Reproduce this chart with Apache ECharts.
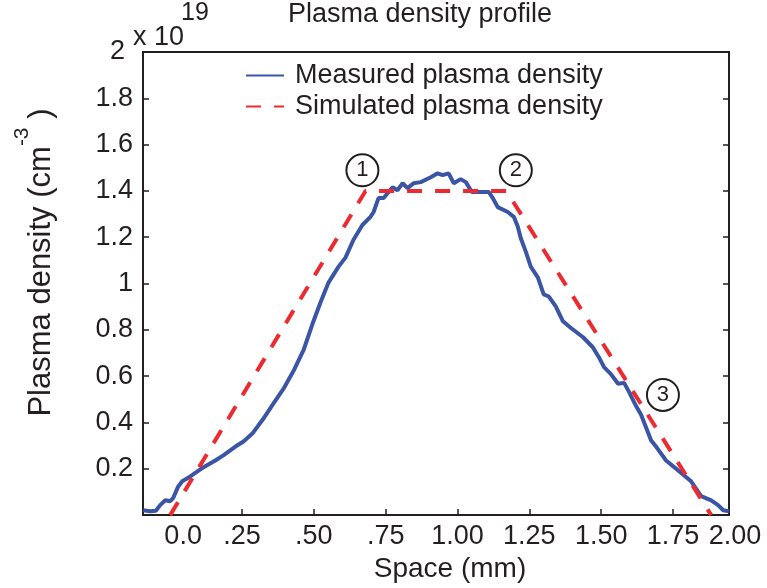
<!DOCTYPE html>
<html>
<head>
<meta charset="utf-8">
<script src="https://cdn.jsdelivr.net/npm/echarts@6/dist/echarts.min.js"></script>
<style>
  html, body { margin: 0; padding: 0; background: #fff; }
  #chart { width: 767px; height: 588px; }
</style>
</head>
<body>
<div id="chart"></div>
<script>
// measured profile (mm, 1e19 cm^-3)
const measuredX = [-0.094, -0.07, -0.05, -0.035, -0.017, 0.0, 0.01, 0.028, 0.042, 0.07, 0.11, 0.157, 0.185, 0.227, 0.255, 0.286, 0.324, 0.359, 0.394, 0.429, 0.464, 0.495, 0.523, 0.551, 0.586, 0.61, 0.638, 0.669, 0.697, 0.708, 0.725, 0.743, 0.76, 0.774, 0.791, 0.809, 0.826, 0.847, 0.872, 0.907, 0.931, 0.948, 0.969, 0.987, 1.011, 1.029, 1.05, 1.081, 1.109, 1.123, 1.14, 1.175, 1.196, 1.21, 1.22, 1.238, 1.255, 1.28, 1.30, 1.318, 1.342, 1.367, 1.395, 1.437, 1.471, 1.492, 1.51, 1.534, 1.559, 1.58, 1.597, 1.621, 1.639, 1.674, 1.691, 1.726, 1.768, 1.813, 1.848, 1.883, 1.907, 1.925, 1.945]
const measuredY = [0.021, 0.017, 0.019, 0.043, 0.064, 0.060, 0.073, 0.124, 0.146, 0.167, 0.202, 0.236, 0.258, 0.296, 0.318, 0.352, 0.416, 0.481, 0.545, 0.622, 0.712, 0.825, 0.918, 1.004, 1.073, 1.112, 1.189, 1.253, 1.288, 1.309, 1.369, 1.369, 1.395, 1.416, 1.403, 1.433, 1.412, 1.433, 1.438, 1.459, 1.476, 1.468, 1.476, 1.433, 1.451, 1.438, 1.395, 1.395, 1.395, 1.369, 1.330, 1.309, 1.288, 1.245, 1.197, 1.137, 1.073, 1.026, 0.953, 0.944, 0.901, 0.837, 0.808, 0.768, 0.725, 0.682, 0.639, 0.609, 0.567, 0.571, 0.532, 0.472, 0.433, 0.322, 0.296, 0.236, 0.193, 0.146, 0.082, 0.064, 0.043, 0.021, 0.017]

// simulated trapezoid
const simulatedX = [0, 0.68, 1.17, 1.883]
const simulatedY = [0, 1.4, 1.4, 0]

// axis ticks / labels
const xTickValues = [0.25, 0.5, 0.75, 1.0, 1.25, 1.5, 1.75]
const xLabelValues = [0.045, 0.25, 0.5, 0.75, 1.0, 1.25, 1.5, 1.75, 1.945]
const xLabelText = ['0.0', '.25', '.50', '.75', '1.00', '1.25', '1.50', '1.75', '2.00']
const yLabelText = ['', '0.2', '0.4', '0.6', '0.8', '1', '1.2', '1.4', '1.6', '1.8', '2']

// circled markers
const annotX = [0.669, 1.203, 1.715]
const annotY = [1.489, 1.489, 0.519]
const annotText = ['1', '2', '3']

const textColor = '#231f20'
const font = 'Liberation Sans'

function frameLine () {
  return { show: true, onZero: false, lineStyle: { color: textColor, width: 2 } }
}
function innerTick () {
  return { show: true, inside: true, length: 6, lineStyle: { color: textColor, width: 1.5 } }
}

let chart = echarts.init(document.getElementById('chart'))
let xTick = innerTick()
xTick.customValues = xTickValues
let option = {
  animation: false,
  title: {
    text: 'Plasma density profile',
    left: 288,
    top: 1,
    padding: 0,
    textStyle: { fontFamily: font, fontSize: 27, fontWeight: 'normal', color: textColor }
  },
  legend: {
    orient: 'vertical',
    left: 245,
    top: 62,
    padding: 0,
    itemWidth: 38,
    itemHeight: 14,
    itemGap: 4,
    itemStyle: { opacity: 0 },
    textStyle: { fontFamily: font, fontSize: 27, color: textColor, padding: [0, 0, 0, 6] },
    data: ['Measured plasma density', 'Simulated plasma density']
  },
  grid: {
    left: 143, right: 38, top: 52, bottom: 71,
    show: true,
    backgroundColor: 'transparent',
    borderColor: textColor,
    borderWidth: 2
  },
  graphic: [
    { type: 'text', left: 133, top: 24, style: { text: 'x 10', fontFamily: font, fontSize: 27, fill: textColor } },
    { type: 'text', left: 181, top: 1, style: { text: '19', fontFamily: font, fontSize: 25, fill: textColor } }
  ],
  xAxis: {
    type: 'value',
    min: -0.0947,
    max: 1.945,
    axisLine: frameLine(),
    splitLine: { show: false },
    axisTick: xTick,
    axisLabel: {
      customValues: xLabelValues,
      showMaxLabel: true,
      showMinLabel: true,
      margin: 8,
      fontFamily: font, fontSize: 27, color: textColor,
      formatter (v) {
        let i = xLabelValues.findIndex(x => Math.abs(x - v) < 1e-6)
        if (i < 0) return ''
        return i === xLabelText.length - 1 ? '{r|' + xLabelText[i] + '}' : xLabelText[i]
      },
      rich: {
        r: { fontFamily: font, fontSize: 27, color: textColor, padding: [0, 0, 0, 12] }
      }
    },
    name: 'Space (mm)',
    nameLocation: 'middle',
    nameGap: 34,
    nameTextStyle: { fontFamily: font, fontSize: 28, color: textColor, padding: [0, 0, 0, 28] }
  },
  yAxis: [{
    type: 'value',
    min: 0, max: 2, interval: 0.2,
    axisLine: frameLine(),
    splitLine: { show: false },
    axisTick: innerTick(),
    axisLabel: {
      margin: 10,
      fontFamily: font, fontSize: 27, color: textColor,
      formatter (v) {
        let i = Math.round(v / 0.2)
        return i === yLabelText.length - 1 ? '{t|' + yLabelText[i] + '}' : yLabelText[i]
      },
      rich: {
        t: { fontFamily: font, fontSize: 27, color: textColor, padding: [0, 8, 0, 0] }
      }
    },
    name: '{m|Plasma density (cm}{sup|-3}{m| )}',
    nameLocation: 'middle',
    nameRotate: 90,
    nameGap: 86,
    nameTextStyle: {
      color: textColor,
      padding: [0, 0, 0, 42],
      rich: {
        m: { fontFamily: font, fontSize: 31, color: textColor, verticalAlign: 'bottom' },
        sup: { fontFamily: font, fontSize: 21, color: textColor, verticalAlign: 'bottom', padding: [0, 0, 24, 0] }
      }
    }
  }, {
    type: 'value',
    position: 'right',
    min: 0, max: 2, interval: 0.2,
    axisLine: frameLine(),
    splitLine: { show: false },
    axisTick: innerTick(),
    axisLabel: { show: false }
  }],
  series: [{
    name: 'Measured plasma density',
    type: 'line',
    symbol: 'none',
    data: measuredX.map((x, i) => [x, measuredY[i]]),
    lineStyle: { color: '#3a55a6', width: 4 },
    itemStyle: { color: '#3a55a6' }
  }, {
    name: 'Simulated plasma density',
    type: 'line',
    symbol: 'none',
    data: simulatedX.map((x, i) => [x, simulatedY[i]]),
    lineStyle: { color: '#ed2a2f', width: 4, type: [15, 13] },
    itemStyle: { color: '#ed2a2f' },
    markPoint: {
      symbol: 'circle',
      symbolSize: 32,
      itemStyle: { color: 'rgba(0,0,0,0)', borderColor: textColor, borderWidth: 2 },
      label: { show: true, position: 'inside', formatter: p => p.name, fontFamily: font, fontSize: 22, color: textColor },
      data: annotX.map((x, i) => ({ name: annotText[i], coord: [x, annotY[i]] }))
    }
  }]
}
chart.setOption(option)
</script>
</body>
</html>
